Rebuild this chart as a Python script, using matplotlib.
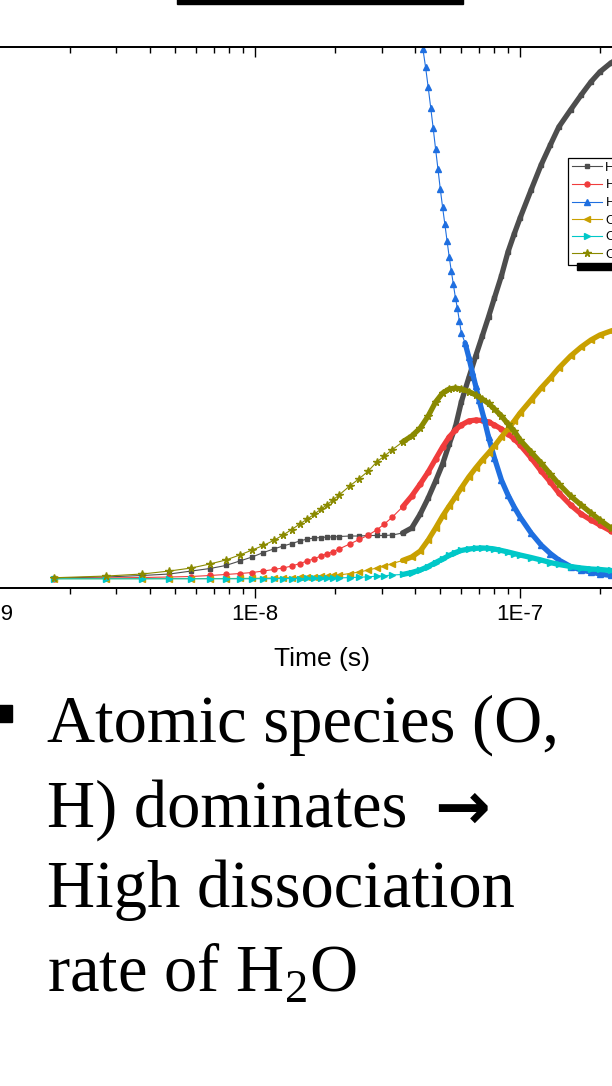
import numpy as np
import matplotlib
matplotlib.use('Agg')
import matplotlib.pyplot as plt
from matplotlib.patches import Rectangle
from matplotlib.ticker import FuncFormatter, LogLocator, NullFormatter

plt.rcParams['font.family'] = ['Liberation Sans', 'DejaVu Sans']
plt.rcParams['mathtext.fontset'] = 'custom'
plt.rcParams['mathtext.rm'] = 'Liberation Serif'

W, H = 612, 1086

# sampling times (ns) shared by all species except H2O
t_ns = [1.75, 2.75, 3.75, 4.75, 5.75, 6.75, 7.75, 8.75, 9.75, 10.75,
        11.75, 12.75, 13.75, 14.75, 15.75, 16.75, 17.75, 18.75, 19.75, 20.75,
        22.75, 24.75, 26.75, 28.75, 30.75,
        33, 36, 39, 42, 45, 48, 51, 54, 57, 60,
        64, 68, 72, 76, 80, 85, 90, 95, 100,
        110, 120, 130, 140, 155, 170, 185, 200, 220, 240, 260]

# mole fractions (%)
frac_H = [0.19, 0.38, 0.66, 0.94, 1.50, 1.97, 2.54, 3.38, 4.14, 4.98,
          5.64, 6.20, 6.67, 7.14, 7.52, 7.71, 7.80, 7.90, 7.90, 7.99,
          8.08, 8.08, 8.18, 8.18, 8.18,
          8.27, 8.65, 9.59, 12.22, 15.23, 18.42, 21.62, 25.38, 28.58, 33.27,
          37.78, 41.92, 45.68, 49.26, 52.83, 56.96, 61.48, 64.86, 67.87,
          73.13, 77.83, 81.59, 84.98, 88.17, 90.99, 93.44, 95.32, 97.01, 98.14, 99.08]
frac_H2 = [0.09, 0.19, 0.28, 0.38, 0.47, 0.66, 0.85, 1.03, 1.22, 1.50,
           1.79, 2.07, 2.44, 2.91, 3.38, 3.85, 4.32, 4.79, 5.17, 5.64,
           6.58, 7.43, 8.27, 9.21, 10.34,
           11.66, 13.54, 15.60, 17.86, 20.12, 22.56, 24.82, 26.70, 28.01, 28.95,
           29.70, 29.89, 29.80, 29.52, 28.95, 28.20, 27.26, 26.32, 25.19,
           22.75, 20.30, 18.24, 16.17, 13.91, 12.22, 11.09, 10.15, 9.02, 8.18, 7.43]
frac_O = [0.06, 0.06, 0.06, 0.08, 0.08, 0.09, 0.09, 0.11, 0.13, 0.15,
          0.19, 0.23, 0.26, 0.32, 0.38, 0.43, 0.51, 0.56, 0.66, 0.75,
          1.03, 1.32, 1.69, 2.07, 2.44,
          2.91, 3.48, 4.14, 5.26, 7.33, 9.59, 11.84, 13.72, 15.42, 17.11,
          19.17, 20.87, 22.37, 23.69, 25.00, 26.70, 28.20, 29.70, 31.21,
          33.65, 35.90, 37.78, 39.66, 41.92, 43.61, 44.93, 45.87, 46.62, 47.18, 47.56]
frac_O2 = [0.04, 0.04, 0.04, 0.04, 0.04, 0.04, 0.04, 0.04, 0.04, 0.06,
           0.06, 0.08, 0.09, 0.09, 0.11, 0.13, 0.15, 0.17, 0.19, 0.21,
           0.26, 0.34, 0.41, 0.53, 0.62,
           0.75, 0.85, 1.22, 1.69, 2.35, 3.10, 3.76, 4.42, 4.98, 5.36,
           5.64, 5.77, 5.83, 5.77, 5.64, 5.36, 5.08, 4.79, 4.51,
           4.04, 3.57, 3.10, 2.73, 2.35, 2.07, 1.88, 1.79, 1.60, 1.41, 1.32]
frac_OH = [0.24, 0.56, 0.94, 1.50, 2.07, 2.82, 3.57, 4.51, 5.45, 6.30,
           7.24, 8.27, 9.30, 10.34, 11.28, 12.22, 13.16, 14.00, 14.94, 15.79,
           17.48, 18.89, 20.30, 21.99, 23.12,
           24.34, 25.75, 26.88, 28.38, 30.64, 33.27, 34.96, 35.71, 35.90, 35.71,
           35.24, 34.59, 33.83, 32.99, 31.95, 30.64, 29.14, 27.82, 26.13,
           23.87, 21.80, 19.74, 17.86, 15.60, 13.91, 12.41, 11.09, 9.59, 8.46, 7.52]

# H2O is sampled on its own grid (starts off-scale)
t_h2o_ns = [42, 43, 44, 45, 46, 47, 48, 49, 50, 51, 52, 53, 54, 55, 56, 57, 58, 59, 60,
            62, 64, 66, 68, 70, 73, 76, 80, 85, 90, 95, 100,
            110, 120, 130, 140, 155, 170, 185, 200, 220, 240, 260]
frac_H2O = [103.0, 99.57, 96.18, 92.43, 88.59, 84.72, 80.77, 77.01, 73.25, 69.87,
            66.73, 63.59, 60.58, 57.89, 55.40, 52.88, 50.88, 48.50, 46.30,
            44.36, 41.73, 38.91, 36.28, 33.65, 30.26, 26.69, 22.75, 18.61, 15.79, 13.53, 11.65,
            8.65, 6.39, 4.79, 3.57, 2.35, 1.69, 1.32, 0.94, 0.66, 0.47, 0.38]

labels = ['H', 'H$_2$', 'H$_2$O', 'O', 'O$_2$', 'OH']
colors = ['#4d4d4d', '#f03c3c', '#1f6fe0', '#c9a000', '#00c8c8', '#8a8a00']
markers = ['s', 'o', '^', '<', '>', '*']
msizes = [3.2, 3.6, 4.2, 4.2, 4.2, 5.5]

fig = plt.figure(figsize=(W / 100, H / 100), dpi=100)
ax = fig.add_axes([-10 / W, 1 - 588 / H, 664 / W, 541 / H])

t = np.array(t_ns) * 1e-9
t_h2o = np.array(t_h2o_ns) * 1e-9
series = [(t, frac_H), (t, frac_H2), (t_h2o, frac_H2O), (t, frac_O), (t, frac_O2), (t, frac_OH)]
dense_from = [36e-9, 36e-9, 62e-9, 36e-9, 36e-9, 36e-9]

handles = []
for (tt, yy), lab, c, m, ms, td in zip(series, labels, colors, markers, msizes, dense_from):
    yy = np.array(yy)
    sel = tt >= td
    # late times are sampled so densely that the symbols merge into a band
    ax.plot(tt[sel], yy[sel], color=c, lw=3.8, solid_capstyle='round')
    h, = ax.plot(tt, yy, color=c, lw=0.8, marker=m, ms=ms, mec=c, mfc=c, label=lab)
    handles.append(h)

ax.set_xscale('log')
ax.set_xlim(1e-9, 3.2e-7)
ax.set_ylim(-1.69, 100.0)
ax.set_yticks([])
ax.xaxis.set_major_locator(LogLocator(base=10))
ax.xaxis.set_minor_locator(LogLocator(base=10, subs=np.arange(2, 10)))
ax.xaxis.set_major_formatter(FuncFormatter(lambda v, p: '1E%d' % int(round(np.log10(v)))))
ax.xaxis.set_minor_formatter(NullFormatter())
ax.tick_params(axis='x', which='major', direction='out', length=7.5, width=1.0,
               labelsize=16, pad=4)
ax.tick_params(axis='x', which='minor', direction='out', length=4, width=1.0)
for s in ax.spines.values():
    s.set_linewidth(1.3)
ax.set_xlabel('Time (s)', fontsize=19, labelpad=16)

# mirrored ticks on the top axis, pointing inward
ax2 = ax.twiny()
ax2.set_xscale('log')
ax2.set_xlim(ax.get_xlim())
ax2.xaxis.set_minor_locator(LogLocator(base=10, subs=np.arange(2, 10)))
ax2.xaxis.set_major_formatter(NullFormatter())
ax2.xaxis.set_minor_formatter(NullFormatter())
ax2.tick_params(axis='x', which='major', direction='in', length=7.5, width=1.0)
ax2.tick_params(axis='x', which='minor', direction='in', length=4, width=1.0)
ax2.set_yticks([])
for s in ax2.spines.values():
    s.set_linewidth(1.3)

leg = ax2.legend(handles, labels, loc='upper left', bbox_to_anchor=(568 / W, 1 - 158 / H),
                 bbox_transform=fig.transFigure, borderaxespad=0, fontsize=9.4,
                 handlelength=2.3, handletextpad=0.25, labelspacing=0.26, borderpad=0.3,
                 fancybox=False, edgecolor='black', framealpha=1)
leg.get_frame().set_linewidth(0.9)


def px_rect(x0, y0, x1, y1):
    fig.patches.append(Rectangle((x0 / W, 1 - y1 / H), (x1 - x0) / W, (y1 - y0) / H,
                                 transform=fig.transFigure, color='black', zorder=5))


# legend shadow and the bar above the plot
px_rect(577, 263, 700, 270)
px_rect(177, -2, 463, 4)

# bullet text below the chart
px_rect(-4, 705, 12, 722)
serif = ['Liberation Serif', 'DejaVu Serif']
fs = 48
fig.text(47 / W, 1 - 742 / H, 'Atomic species (O,', fontsize=fs, family=serif, va='baseline')
fig.text(47 / W, 1 - 827 / H, 'H) dominates', fontsize=fs, family=serif, va='baseline')
fig.text(434 / W, 1 - 829 / H, '\u2192', fontsize=48, family=['DejaVu Sans'],
         weight='bold', va='baseline')
fig.text(47 / W, 1 - 907 / H, 'High dissociation', fontsize=fs, family=serif, va='baseline')
fig.text(47 / W, 1 - 992 / H, r'rate of H$_\mathrm{2}$O', fontsize=fs, family=serif,
         va='baseline')

fig.savefig('out.png', dpi=100)
